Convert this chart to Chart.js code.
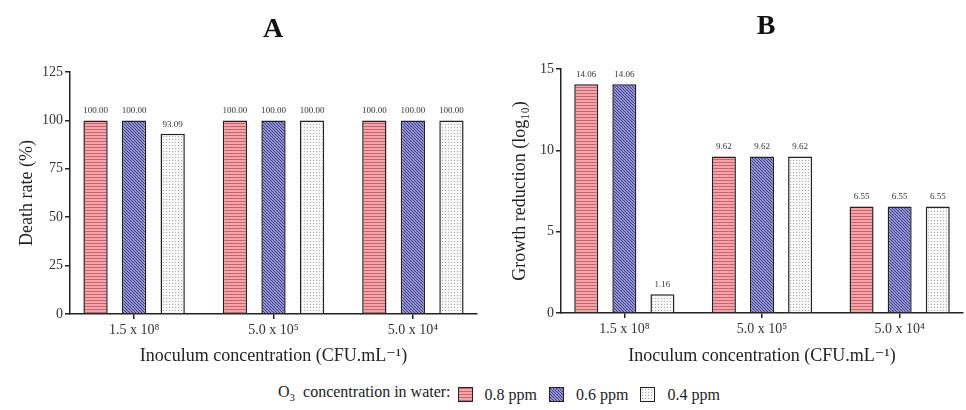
<!DOCTYPE html>
<html>
<head>
<meta charset="utf-8">
<script src="https://cdn.jsdelivr.net/npm/chart.js@4.4.0/dist/chart.umd.min.js"></script>
<style>
  body { margin: 0; width: 966px; height: 410px; background: #fff; position: relative; overflow: hidden;
         font-family: "Liberation Serif", "DejaVu Serif", serif; color: #222; }
  .panel { position: absolute; top: 0; width: 483px; height: 370px; }
  .tag { position: absolute; width: 80px; text-align: center; font-size: 28px; font-weight: bold; line-height: 34px; color: #111; }
  #legend { position: absolute; top: 382px; left: 278px; display: flex; align-items: center; font-size: 16px; line-height: 20px; color: #222; white-space: nowrap; }
  .sw { width: 13px; height: 13px; border: 1.5px solid #222; margin: 0 12px 0 12px; }
  #sw0 { margin-left: 7px; }
  #legend sub { font-size: 11px; }
</style>
</head>
<body>
<div class="panel" style="left:0"><canvas id="chartA"></canvas></div>
<div class="panel" style="left:483px"><canvas id="chartB"></canvas></div>
<div class="tag" style="left:233px;top:11px">A</div>
<div class="tag" style="left:726px;top:8px">B</div>
<div id="legend">
  <span>O<sub>3</sub>&nbsp; concentration in water:</span>
  <span class="sw" id="sw0"></span><span>0.8 ppm</span>
  <span class="sw" id="sw1"></span><span>0.6 ppm</span>
  <span class="sw" id="sw2"></span><span>0.4 ppm</span>
</div>
<script>
// data
const concentrations = ['1.5 x 10⁸', '5.0 x 10⁵', '5.0 x 10⁴'];
const ozoneLevels = ['0.8 ppm', '0.6 ppm', '0.4 ppm'];
const deathRate08 = [100, 100, 100];
const deathRate06 = [100, 100, 100];
const deathRate04 = [93.09, 100, 100];
const growthRed08 = [14.06, 9.62, 6.55];
const growthRed06 = [14.06, 9.62, 6.55];
const growthRed04 = [1.16, 9.62, 6.55];
const deathTicks = [0, 25, 50, 75, 100, 125];
const growthTicks = [0, 5, 10, 15];

const FONT = '"Liberation Serif", "DejaVu Serif", serif';

// small tiles for the hatch fills
function makeTile(kind) {
  const c = document.createElement('canvas');
  const ctx = c.getContext('2d');
  c.width = 3; c.height = 3;
  if (kind === 'h') {
    ctx.fillStyle = '#f5a5a9'; ctx.fillRect(0, 0, 3, 3);
    ctx.fillStyle = '#c7646c'; ctx.fillRect(0, 0, 3, 1);
  } else if (kind === 'd') {
    ctx.fillStyle = '#9898d8'; ctx.fillRect(0, 0, 3, 3);
    ctx.fillStyle = '#34347a';
    for (let i = 0; i < 3; i++) ctx.fillRect(i, i, 1, 1);
  } else {
    ctx.fillStyle = '#f7f7f7'; ctx.fillRect(0, 0, 3, 3);
    ctx.fillStyle = '#a8a8a8'; ctx.fillRect(1, 1, 1, 1);
  }
  return c;
}
const tiles = [makeTile('h'), makeTile('d'), makeTile('p')];
const fills = tiles.map(t => document.createElement('canvas').getContext('2d').createPattern(t, 'repeat'));

tiles.forEach((t, i) => {
  document.getElementById('sw' + i).style.backgroundImage = 'url(' + t.toDataURL() + ')';
});

// numbers above the bars
const valueLabels = {
  id: 'valueLabels',
  afterDatasetsDraw(chart) {
    const ctx = chart.ctx;
    ctx.save();
    ctx.font = '9px ' + FONT;
    ctx.fillStyle = '#333';
    ctx.textAlign = 'center';
    ctx.textBaseline = 'bottom';
    chart.data.datasets.forEach((ds, i) => {
      chart.getDatasetMeta(i).data.forEach((bar, j) => {
        ctx.fillText(ds.data[j].y.toFixed(2), bar.x, bar.y - 5);
      });
    });
    ctx.restore();
  }
};

function makePanel(id, series, yTicks, yTitle, g) {
  return new Chart(document.getElementById(id), {
    type: 'bar',
    data: {
      datasets: series.map((d, i) => ({
        label: ozoneLevels[i],
        data: d.map((v, k) => ({ x: k, y: v })),
        backgroundColor: fills[i],
        borderColor: '#222',
        borderWidth: 1.5,
        categoryPercentage: 0.83,
        barPercentage: 0.63
      }))
    },
    options: {
      responsive: true,
      maintainAspectRatio: false,
      animation: false,
      layout: { padding: { top: g.top, right: g.right, left: 0, bottom: 0 } },
      plugins: { legend: { display: false }, tooltip: { enabled: false } },
      scales: {
        x: {
          type: 'linear',
          offset: false,
          min: -0.46,
          max: concentrations.length - 0.54,
          afterBuildTicks: s => { s.ticks = concentrations.map((c, k) => ({ value: k })); },
          grid: { offset: false, drawOnChartArea: false, drawTicks: true, tickLength: 5, color: '#222', lineWidth: 1.5 },
          border: { color: '#222', width: 1.5 },
          ticks: { color: '#333', padding: 3, font: { family: FONT, size: 14 }, maxRotation: 0,
                   callback: v => concentrations[v] },
          title: { display: true, text: 'Inoculum concentration (CFU.mL⁻¹)', color: '#222',
                   font: { family: FONT, size: 18 }, padding: { top: 0, bottom: 3 } },
          afterFit: s => { s.height = g.xh; }
        },
        y: {
          min: 0,
          max: yTicks[yTicks.length - 1],
          afterBuildTicks: s => { s.ticks = yTicks.map(v => ({ value: v })); },
          grid: { drawOnChartArea: false, drawTicks: true, tickLength: 5, color: '#222', lineWidth: 1.5 },
          border: { color: '#222', width: 1.5 },
          ticks: { color: '#333', padding: 2, font: { family: FONT, size: 14 } },
          title: { display: true, text: yTitle, color: '#222',
                   font: { family: FONT, size: 18 }, padding: { top: g.tp, bottom: 0 } },
          afterFit: s => { s.width = g.yw; }
        }
      }
    },
    plugins: [valueLabels]
  });
}

makePanel('chartA', [deathRate08, deathRate06, deathRate04], deathTicks, 'Death rate (%)',
  { top: 72, right: 6, xh: 56, yw: 70, tp: 16 });
makePanel('chartB', [growthRed08, growthRed06, growthRed04], growthTicks, 'Growth reduction (log₁₀)',
  { top: 69, right: 3, xh: 57, yw: 78, tp: 26 });
</script>
</body>
</html>
